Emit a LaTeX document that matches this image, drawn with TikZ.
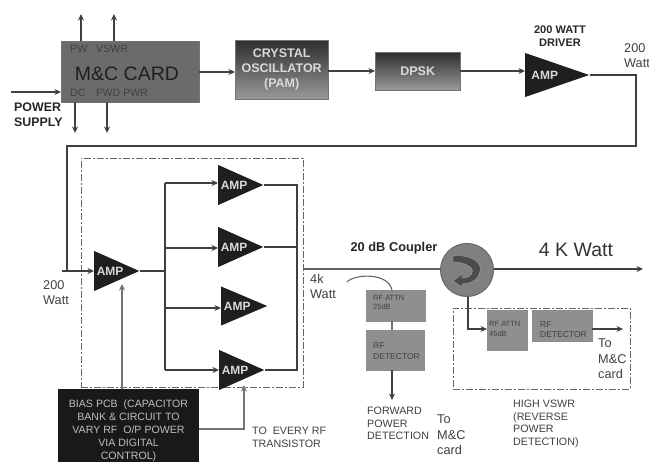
\documentclass[tikz,border=0pt]{standalone}
\usepackage{fontspec}
\setmainfont{Liberation Sans}
\usetikzlibrary{shapes.geometric,arrows.meta,calc}
\definecolor{boxgray}{gray}{0.56}
\definecolor{linegray}{gray}{0.25}
\definecolor{textgray}{gray}{0.25}
\tikzset{
 conn/.style={draw=linegray,line width=1.1pt},
 arr/.style={conn,-{Stealth[length=6.5pt,width=6pt]}},
 amp/.style={isosceles triangle,isosceles triangle stretches,fill=black!88,draw=none,inner sep=0pt,
   minimum width=#1,text=white!85!black,font=\bfseries\fontsize{12}{13}\selectfont,anchor=lower side,shape border rotate=0},
 amp/.default=40,
 grad/.style={draw=black!55,top color=black!82,bottom color=black!40,text=white!85!black,font=\bfseries\fontsize{12.5}{15}\selectfont,align=center,anchor=north west,inner sep=0pt},
 small/.style={draw=black!45,fill=boxgray,anchor=north west,inner sep=0pt,text=textgray,align=left,font=\fontsize{7}{10}\selectfont},
 lab/.style={text=textgray,align=left,inner sep=0pt,anchor=north west,font=\fontsize{12.7}{15}\selectfont},
 caps/.style={text=textgray,align=left,inner sep=0pt,anchor=north west,font=\fontsize{10.7}{12.6}\selectfont},
 blab/.style={text=black!85,align=center,inner sep=0pt,font=\bfseries\fontsize{11}{13}\selectfont},
 dashbox/.style={draw=black!60,line width=0.9pt,dash pattern=on 7pt off 2pt on 2pt off 2pt,anchor=north west,inner sep=0pt},
}
\begin{document}
\begin{tikzpicture}[x=1pt,y=-1pt]
\useasboundingbox (0,0) rectangle (649,462);
% dashed frames
\node[dashbox,minimum width=222,minimum height=229] (frameA) at (81,158) {};
\node[dashbox,minimum width=177,minimum height=81] (frameB) at (453,308) {};
% top row
\node[draw=black!55,fill=black!58,minimum width=138,minimum height=61,anchor=north west,inner sep=0pt] (mc) at (61,41) {};
\node[text=black!88,font=\fontsize{19.5}{22}\selectfont,inner sep=0pt] (mctxt) at (127,74) {M\&C CARD};
\node[text=textgray,font=\fontsize{10.6}{12}\selectfont,inner sep=0pt,anchor=west] (pw) at (70,49) {PW};
\node[text=textgray,font=\fontsize{10.6}{12}\selectfont,inner sep=0pt,anchor=west] (vs) at (96,49) {VSWR};
\node[text=textgray,font=\fontsize{10.6}{12}\selectfont,inner sep=0pt,anchor=west] (dc) at (70,93) {DC};
\node[text=textgray,font=\fontsize{10.6}{12}\selectfont,inner sep=0pt,anchor=west] (fw) at (96,93) {FWD PWR};
\node[grad,minimum width=93,minimum height=59] (xo) at (235,40) {CRYSTAL\\OSCILLATOR\\(PAM)};
\node[grad,minimum width=85,minimum height=38] (dpsk) at (375,52) {DPSK};
\node[amp=44,minimum height=64] (a0) at (525,75) {AMP};
\node[blab] (drv) at (560,36) {200 WATT\\DRIVER};
\node[lab] (w1) at (624,43) {200\\Watt};
\node[align=left,inner sep=0pt,anchor=north west,text=black!85,font=\bfseries\fontsize{12.4}{15}\selectfont] (ps) at (14,103) {POWER\\SUPPLY};
\coordinate (psin) at (11,92);
\coordinate (pwt) at (81,14);
\coordinate (vst) at (114,14);
\coordinate (dcb) at (75,133);
\coordinate (fwb) at (107,133);
\draw[arr] (psin) -- (psin -| mc.west);
\draw[arr] (pwt |- mc.north) -- (pwt);
\draw[arr] (vst |- mc.north) -- (vst);
\draw[arr] (dcb |- mc.south) -- (dcb);
\draw[arr] (fwb |- mc.south) -- (fwb);
\draw[arr] (mc.east |- 0,72) -- (xo.west |- 0,72);
\draw[arr] (xo.east |- 0,71) -- (dpsk.west |- 0,71);
\draw[arr] (dpsk.east |- 0,71) -- (a0.lower side |- 0,71);
% amps
\node[amp=40,minimum height=45] (a1) at (94,271) {AMP};
\node[amp=40,minimum height=45] (b1) at (218,185) {AMP};
\node[amp=40,minimum height=45] (b2) at (218,247) {AMP};
\node[amp=39,minimum height=46] (b3) at (221,306) {AMP};
\node[amp=40,minimum height=45] (b4) at (219,370) {AMP};
\coordinate (c1) at (636,75);
\coordinate (c2) at (636,146);
\coordinate (c3) at (67,146);
\coordinate (c4) at (67,271);
\coordinate (st) at (62,271);
\draw[conn] (a0.apex) -- (c1) -- (c2) -- (c3) -- (c4);
\draw[arr] (st) -- (a1.lower side |- st);
\node[lab] (w2) at (43,280) {200\\Watt};
\coordinate (sp) at (165,271);
\coordinate (s1) at (165,183);
\coordinate (s2) at (165,248);
\coordinate (s3) at (165,308);
\coordinate (s4) at (165,370);
\draw[conn] (a1.apex) -- (sp);
\draw[conn] (s1) -- (s4);
\draw[arr] (s1) -- (b1.lower side |- s1);
\draw[arr] (s2) -- (b2.lower side |- s2);
\draw[arr] (s3) -- (b3.lower side |- s3);
\draw[arr] (s4) -- (b4.lower side |- s4);
\coordinate (r1) at (297,185);
\coordinate (r2) at (297,247);
\coordinate (r4) at (297,370);
\draw[conn] (b1.apex) -- (r1) -- (r4) -- (b4.apex);
\draw[conn] (b2.apex) -- (r2);
% bias
\node[fill=black!90,text=white!75!black,minimum width=141,minimum height=73,anchor=north west,inner sep=0pt] (bias) at (58,389) {};
\node[text=white!75!black,align=center,inner sep=0pt,anchor=north,font=\fontsize{10.6}{13}\selectfont] (biast) at (128.5,400) {BIAS PCB\ \ (CAPACITOR\\BANK \& CIRCUIT TO\\VARY RF\ \ O/P POWER\\VIA DIGITAL\\CONTROL)};
\coordinate (bu) at (122,284);
\coordinate (bv) at (244,429);
\coordinate (bw) at (244,385);
\draw[draw=black!55,line width=1.1pt,-{Stealth[length=6.5pt,width=6pt]}] (bu |- bias.north) -- (bu);
\draw[draw=black!55,line width=1.1pt,-{Stealth[length=6.5pt,width=6pt]}] (bias.east |- bv) -- (bv) -- (bw);
\node[caps] (every) at (252,427) {TO\ \ EVERY RF\\TRANSISTOR};
% coupler
\node[circle,draw=black!60,line width=1pt,fill=black!50,minimum size=53,inner sep=0pt] (circ) at (467,270) {};
\coordinate (m0) at (303,269);
\coordinate (m1) at (643,269);
\draw[conn,line width=1.3pt,draw=black!60] (m0) -- (circ.west |- m0);
\draw[arr,line width=1.2pt] (circ.east |- m0) -- (m1);
\fill[black!70,draw=black!35,line width=0.4pt] (453,256) .. controls (470,254) and (483,262) .. (480,272)
  .. controls (477,282) and (468,284) .. (462,284) -- (462,287) -- (453,281) -- (462,274) -- (462,278)
  .. controls (470,278) and (476,272) .. (470,267) .. controls (465,263) and (458,262) .. (453,262) -- cycle;
\node[blab,font=\bfseries\fontsize{12.8}{14}\selectfont] (cp) at (394,248) {20 dB Coupler};
\node[text=black!80,inner sep=0pt,font=\fontsize{19.5}{22}\selectfont] (kw) at (576,250) {4 K Watt};
\node[lab] (w3) at (310,274) {4k\\Watt};
% forward branch
\node[small,minimum width=59,minimum height=31] (att1) at (366,290) {};
\node[text=textgray,align=left,inner sep=0pt,anchor=north west,font=\fontsize{7.5}{9.5}\selectfont] (att1t) at (373,295) {RF ATTN\\25dB};
\node[small,minimum width=58,minimum height=40] (det1) at (366,330) {};
\node[text=textgray,align=left,inner sep=0pt,anchor=north west,font=\fontsize{8.5}{11.5}\selectfont] (det1t) at (373,342) {RF\\DETECTOR};
\coordinate (cv) at (347,282);
\coordinate (o1) at (392,400);
\draw[conn,draw=black!60] (cv) .. controls (354,274) and (388,272) .. (att1.north -| 392,0);
\draw[conn,draw=black!55] (att1.south -| o1) -- (det1.north -| o1);
\draw[arr] (det1.south -| o1) -- (o1);
\node[caps] (fwd) at (367,407) {FORWARD\\POWER\\DETECTION};
\node[lab,font=\fontsize{12.7}{15.5}\selectfont] (tm1) at (437,415) {To\\M\&C\\card};
% reverse branch
\node[small,minimum width=40,minimum height=40] (att2) at (487,310) {};
\node[text=textgray,align=left,inner sep=0pt,anchor=north west,font=\fontsize{7.5}{10.5}\selectfont] (att2t) at (489,321) {RF ATTN\\45dB};
\node[small,minimum width=60,minimum height=31] (det2) at (532,310) {};
\node[text=textgray,align=left,inner sep=0pt,anchor=north west,font=\fontsize{8.5}{10.5}\selectfont] (det2t) at (540,321) {RF\\DETECTOR};
\coordinate (dn) at (468,329);
\coordinate (o2) at (623,329);
\draw[arr] (circ.south -| dn) -- (dn) -- (att2.west |- dn);
\draw[arr] (det2.east |- o2) -- (o2);
\node[lab,font=\fontsize{12.7}{15.5}\selectfont] (tm2) at (598,339) {To\\M\&C\\card};
\node[caps] (hv) at (513,400) {HIGH VSWR\\(REVERSE\\POWER\\DETECTION)};
\end{tikzpicture}
\end{document}
